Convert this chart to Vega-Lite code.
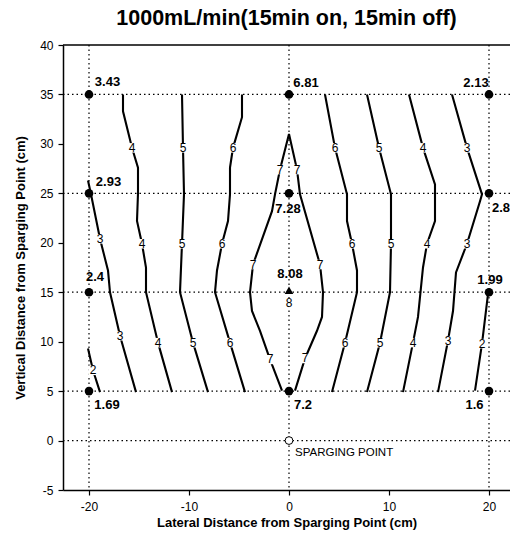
{
  "$schema": "https://vega.github.io/schema/vega-lite/v6.json",
  "width": 447,
  "height": 445,
  "autosize": {"type": "none"},
  "padding": {"left": 63, "top": 45, "right": 0, "bottom": 51},
  "background": "white",
  "title": {"text": "1000mL/min(15min on, 15min off)", "font": "Liberation Sans", "fontSize": 21.5, "fontWeight": "bold", "color": "black", "anchor": "middle", "frame": "group", "offset": 10},
  "config": {
    "view": {"stroke": null},
    "axis": {"labelFont": "Liberation Sans", "labelFontSize": 12, "labelColor": "black", "domainColor": "black", "domainWidth": 1.5, "tickColor": "black", "tickSize": 5, "tickWidth": 1.2, "titleFont": "Liberation Sans", "titleFontSize": 13, "titleFontWeight": "bold", "titleColor": "black", "grid": false, "labelFlush": false}
  },
  "datasets": {
    "contours": [
      {"c": "L4", "o": 1, "x": -16.6, "y": 35}, {"c": "L4", "o": 2, "x": -16.6, "y": 33.3}, {"c": "L4", "o": 3, "x": -15.7, "y": 29.6}, {"c": "L4", "o": 4, "x": -15.1, "y": 27.6}, {"c": "L4", "o": 5, "x": -15.1, "y": 25}, {"c": "L4", "o": 6, "x": -15.2, "y": 22.2}, {"c": "L4", "o": 7, "x": -14.7, "y": 19.9}, {"c": "L4", "o": 8, "x": -14.3, "y": 17.5}, {"c": "L4", "o": 9, "x": -14.3, "y": 15}, {"c": "L4", "o": 10, "x": -13.1, "y": 9.9}, {"c": "L4", "o": 11, "x": -11.7, "y": 4.9},
      {"c": "L5", "o": 1, "x": -10.7, "y": 35}, {"c": "L5", "o": 2, "x": -10.6, "y": 29.6}, {"c": "L5", "o": 3, "x": -10.5, "y": 24.9}, {"c": "L5", "o": 4, "x": -10.7, "y": 19.9}, {"c": "L5", "o": 5, "x": -10.9, "y": 15}, {"c": "L5", "o": 6, "x": -9.6, "y": 9.9}, {"c": "L5", "o": 7, "x": -8.1, "y": 4.9},
      {"c": "L6", "o": 1, "x": -4.7, "y": 35}, {"c": "L6", "o": 2, "x": -4.7, "y": 32.7}, {"c": "L6", "o": 3, "x": -5.6, "y": 29.6}, {"c": "L6", "o": 4, "x": -5.9, "y": 27.6}, {"c": "L6", "o": 5, "x": -5.9, "y": 24.9}, {"c": "L6", "o": 6, "x": -6.1, "y": 22.2}, {"c": "L6", "o": 7, "x": -6.7, "y": 19.9}, {"c": "L6", "o": 8, "x": -7.2, "y": 17.2}, {"c": "L6", "o": 9, "x": -7.4, "y": 15}, {"c": "L6", "o": 10, "x": -5.9, "y": 9.9}, {"c": "L6", "o": 11, "x": -4.4, "y": 4.9},
      {"c": "L3", "o": 1, "x": -20.1, "y": 26.3}, {"c": "L3", "o": 2, "x": -19.8, "y": 24.9}, {"c": "L3", "o": 3, "x": -18.9, "y": 20.4}, {"c": "L3", "o": 4, "x": -18.1, "y": 17.2}, {"c": "L3", "o": 5, "x": -17.9, "y": 15}, {"c": "L3", "o": 6, "x": -16.9, "y": 10.6}, {"c": "L3", "o": 7, "x": -15.3, "y": 4.9},
      {"c": "L2", "o": 1, "x": -20.1, "y": 9.3}, {"c": "L2", "o": 2, "x": -19.6, "y": 7.1}, {"c": "L2", "o": 3, "x": -18.9, "y": 4.9},
      {"c": "C7", "o": 1, "x": -0.7, "y": 5.05}, {"c": "C7", "o": 2, "x": -1.9, "y": 8.2}, {"c": "C7", "o": 3, "x": -2.9, "y": 11.1}, {"c": "C7", "o": 4, "x": -3.7, "y": 13.1}, {"c": "C7", "o": 5, "x": -3.9, "y": 15}, {"c": "C7", "o": 6, "x": -3.6, "y": 17.8}, {"c": "C7", "o": 7, "x": -1.7, "y": 23.2}, {"c": "C7", "o": 8, "x": -1.4, "y": 24.9}, {"c": "C7", "o": 9, "x": -0.9, "y": 27.4}, {"c": "C7", "o": 10, "x": 0, "y": 31}, {"c": "C7", "o": 11, "x": 0.8, "y": 27.4}, {"c": "C7", "o": 12, "x": 1.1, "y": 24.9}, {"c": "C7", "o": 13, "x": 3.1, "y": 17.8}, {"c": "C7", "o": 14, "x": 3.4, "y": 15}, {"c": "C7", "o": 15, "x": 3.3, "y": 12.5}, {"c": "C7", "o": 16, "x": 2.8, "y": 11.1}, {"c": "C7", "o": 17, "x": 1.6, "y": 8.3}, {"c": "C7", "o": 18, "x": 0.6, "y": 5.05},
      {"c": "R6", "o": 1, "x": 3.6, "y": 35}, {"c": "R6", "o": 2, "x": 4.6, "y": 29.6}, {"c": "R6", "o": 3, "x": 5.8, "y": 24.9}, {"c": "R6", "o": 4, "x": 5.8, "y": 22.2}, {"c": "R6", "o": 5, "x": 6.3, "y": 19.9}, {"c": "R6", "o": 6, "x": 6.8, "y": 17.2}, {"c": "R6", "o": 7, "x": 6.8, "y": 15}, {"c": "R6", "o": 8, "x": 5.6, "y": 9.9}, {"c": "R6", "o": 9, "x": 4.3, "y": 4.9},
      {"c": "R5", "o": 1, "x": 7.8, "y": 35}, {"c": "R5", "o": 2, "x": 9.0, "y": 29.6}, {"c": "R5", "o": 3, "x": 10.2, "y": 24.9}, {"c": "R5", "o": 4, "x": 10.2, "y": 19.9}, {"c": "R5", "o": 5, "x": 10.1, "y": 15}, {"c": "R5", "o": 6, "x": 9.1, "y": 9.9}, {"c": "R5", "o": 7, "x": 7.8, "y": 4.9},
      {"c": "R4", "o": 1, "x": 12.0, "y": 35}, {"c": "R4", "o": 2, "x": 13.4, "y": 29.6}, {"c": "R4", "o": 3, "x": 14.6, "y": 25.9}, {"c": "R4", "o": 4, "x": 14.6, "y": 22.2}, {"c": "R4", "o": 5, "x": 13.8, "y": 19.9}, {"c": "R4", "o": 6, "x": 13.4, "y": 17.5}, {"c": "R4", "o": 7, "x": 12.9, "y": 12.5}, {"c": "R4", "o": 8, "x": 12.4, "y": 9.9}, {"c": "R4", "o": 9, "x": 11.4, "y": 4.9},
      {"c": "R3", "o": 1, "x": 16.3, "y": 35}, {"c": "R3", "o": 2, "x": 17.8, "y": 29.6}, {"c": "R3", "o": 3, "x": 19.3, "y": 24.9}, {"c": "R3", "o": 4, "x": 19.1, "y": 24.2}, {"c": "R3", "o": 5, "x": 17.8, "y": 19.9}, {"c": "R3", "o": 6, "x": 16.7, "y": 17}, {"c": "R3", "o": 7, "x": 16.4, "y": 13.1}, {"c": "R3", "o": 8, "x": 15.9, "y": 10.1}, {"c": "R3", "o": 9, "x": 14.9, "y": 4.9},
      {"c": "R2", "o": 1, "x": 19.9, "y": 14.8}, {"c": "R2", "o": 2, "x": 19.3, "y": 9.8}, {"c": "R2", "o": 3, "x": 18.6, "y": 5.05}
    ],
    "clabels": [
      {"x": -15.7, "y": 29.6, "t": "4"}, {"x": -14.7, "y": 19.9, "t": "4"}, {"x": -13.1, "y": 9.9, "t": "4"},
      {"x": -10.6, "y": 29.6, "t": "5"}, {"x": -10.7, "y": 19.9, "t": "5"}, {"x": -9.6, "y": 9.9, "t": "5"},
      {"x": -5.6, "y": 29.6, "t": "6"}, {"x": -6.7, "y": 19.9, "t": "6"}, {"x": -5.9, "y": 9.9, "t": "6"},
      {"x": -18.9, "y": 20.4, "t": "3"}, {"x": -16.9, "y": 10.6, "t": "3"},
      {"x": -19.6, "y": 7.1, "t": "2"},
      {"x": -0.9, "y": 27.4, "t": "7"}, {"x": 0.8, "y": 27.4, "t": "7"}, {"x": -3.6, "y": 17.8, "t": "7"}, {"x": 3.1, "y": 17.8, "t": "7"}, {"x": -1.9, "y": 8.2, "t": "7"}, {"x": 1.6, "y": 8.3, "t": "7"},
      {"x": 4.6, "y": 29.6, "t": "6"}, {"x": 6.3, "y": 19.9, "t": "6"}, {"x": 5.6, "y": 9.9, "t": "6"},
      {"x": 9.0, "y": 29.6, "t": "5"}, {"x": 10.2, "y": 19.9, "t": "5"}, {"x": 9.1, "y": 9.9, "t": "5"},
      {"x": 13.4, "y": 29.6, "t": "4"}, {"x": 13.8, "y": 19.9, "t": "4"}, {"x": 12.4, "y": 9.9, "t": "4"},
      {"x": 17.8, "y": 29.6, "t": "3"}, {"x": 17.8, "y": 19.9, "t": "3"}, {"x": 15.9, "y": 10.1, "t": "3"},
      {"x": 19.3, "y": 9.8, "t": "2"},
      {"x": 0, "y": 13.9, "t": "8"}
    ],
    "points": [
      {"x": -20, "y": 35}, {"x": 0, "y": 35}, {"x": 20, "y": 35},
      {"x": -20, "y": 25}, {"x": 0, "y": 25}, {"x": 20, "y": 25},
      {"x": -20, "y": 15}, {"x": 20, "y": 15},
      {"x": -20, "y": 5}, {"x": 0, "y": 5}, {"x": 20, "y": 5}
    ],
    "vlabels": [
      {"x": -18.15, "y": 36.3, "t": "3.43"}, {"x": 1.7, "y": 36.2, "t": "6.81"}, {"x": 18.7, "y": 36.2, "t": "2.13"},
      {"x": -18.05, "y": 26.1, "t": "2.93"}, {"x": -0.1, "y": 23.4, "t": "7.28"}, {"x": 21.2, "y": 23.5, "t": "2.8"},
      {"x": -19.4, "y": 16.5, "t": "2.4"}, {"x": 0.1, "y": 16.8, "t": "8.08"}, {"x": 20.1, "y": 16.2, "t": "1.99"},
      {"x": -18.2, "y": 3.6, "t": "1.69"}, {"x": 1.4, "y": 3.6, "t": "7.2"}, {"x": 18.55, "y": 3.6, "t": "1.6"}
    ]
  },
  "layer": [
    {
      "data": {"values": [{"x": -20}, {"x": 0}, {"x": 20}]},
      "mark": {"type": "rule", "color": "black", "strokeDash": [1.5, 3], "strokeWidth": 1.2},
      "encoding": {
        "x": {"field": "x", "type": "quantitative", "scale": {"domain": [-22.6, 22.1], "nice": false, "zero": false},
              "axis": {"title": "Lateral Distance from Sparging Point (cm)", "values": [-20, -10, 0, 10, 20], "labelPadding": 6, "titlePadding": 4, "labelExpr": "datum.value + ''"}}
      }
    },
    {
      "data": {"values": [{"y": 35}, {"y": 25}, {"y": 15}, {"y": 5}, {"y": 0}]},
      "mark": {"type": "rule", "color": "black", "strokeDash": [1.5, 3], "strokeWidth": 1.2},
      "encoding": {
        "y": {"field": "y", "type": "quantitative", "scale": {"domain": [-5, 40], "nice": false, "zero": false},
              "axis": {"title": "Vertical Distance from Sparging Point (cm)", "values": [-5, 0, 5, 10, 15, 20, 25, 30, 35, 40], "labelPadding": 5, "titlePadding": 12, "labelExpr": "datum.value + ''"}}
      }
    },
    {
      "data": {"values": [{"y": 40}]},
      "mark": {"type": "rule", "color": "black", "strokeWidth": 1.5},
      "encoding": {
        "y": {"field": "y", "type": "quantitative", "scale": {"domain": [-5, 40], "nice": false, "zero": false},
              "axis": {"title": "Vertical Distance from Sparging Point (cm)", "values": [-5, 0, 5, 10, 15, 20, 25, 30, 35, 40], "labelPadding": 5, "titlePadding": 12, "labelExpr": "datum.value + ''"}}
      }
    },
    {
      "data": {"name": "contours"},
      "mark": {"type": "line", "color": "black", "strokeWidth": 2.1},
      "encoding": {
        "x": {"field": "x", "type": "quantitative", "scale": {"domain": [-22.6, 22.1], "nice": false, "zero": false},
              "axis": {"title": "Lateral Distance from Sparging Point (cm)", "values": [-20, -10, 0, 10, 20], "labelPadding": 6, "titlePadding": 4, "labelExpr": "datum.value + ''"}},
        "y": {"field": "y", "type": "quantitative", "scale": {"domain": [-5, 40], "nice": false, "zero": false},
              "axis": {"title": "Vertical Distance from Sparging Point (cm)", "values": [-5, 0, 5, 10, 15, 20, 25, 30, 35, 40], "labelPadding": 5, "titlePadding": 12, "labelExpr": "datum.value + ''"}},
        "detail": {"field": "c"},
        "order": {"field": "o", "type": "quantitative"}
      }
    },
    {
      "data": {"name": "clabels"},
      "mark": {"type": "point", "shape": "square", "filled": true, "color": "white", "size": 90, "opacity": 1},
      "encoding": {
        "x": {"field": "x", "type": "quantitative", "scale": {"domain": [-22.6, 22.1], "nice": false, "zero": false},
              "axis": {"title": "Lateral Distance from Sparging Point (cm)", "values": [-20, -10, 0, 10, 20], "labelPadding": 6, "titlePadding": 4, "labelExpr": "datum.value + ''"}},
        "y": {"field": "y", "type": "quantitative", "scale": {"domain": [-5, 40], "nice": false, "zero": false},
              "axis": {"title": "Vertical Distance from Sparging Point (cm)", "values": [-5, 0, 5, 10, 15, 20, 25, 30, 35, 40], "labelPadding": 5, "titlePadding": 12, "labelExpr": "datum.value + ''"}}
      }
    },
    {
      "data": {"name": "clabels"},
      "mark": {"type": "text", "font": "Liberation Sans", "fontSize": 12, "fill": "black", "baseline": "middle", "align": "center"},
      "encoding": {
        "x": {"field": "x", "type": "quantitative", "scale": {"domain": [-22.6, 22.1], "nice": false, "zero": false},
              "axis": {"title": "Lateral Distance from Sparging Point (cm)", "values": [-20, -10, 0, 10, 20], "labelPadding": 6, "titlePadding": 4, "labelExpr": "datum.value + ''"}},
        "y": {"field": "y", "type": "quantitative", "scale": {"domain": [-5, 40], "nice": false, "zero": false},
              "axis": {"title": "Vertical Distance from Sparging Point (cm)", "values": [-5, 0, 5, 10, 15, 20, 25, 30, 35, 40], "labelPadding": 5, "titlePadding": 12, "labelExpr": "datum.value + ''"}},
        "text": {"field": "t"}
      }
    },
    {
      "data": {"name": "points"},
      "mark": {"type": "point", "shape": "circle", "filled": true, "color": "black", "size": 75, "opacity": 1},
      "encoding": {
        "x": {"field": "x", "type": "quantitative", "scale": {"domain": [-22.6, 22.1], "nice": false, "zero": false},
              "axis": {"title": "Lateral Distance from Sparging Point (cm)", "values": [-20, -10, 0, 10, 20], "labelPadding": 6, "titlePadding": 4, "labelExpr": "datum.value + ''"}},
        "y": {"field": "y", "type": "quantitative", "scale": {"domain": [-5, 40], "nice": false, "zero": false},
              "axis": {"title": "Vertical Distance from Sparging Point (cm)", "values": [-5, 0, 5, 10, 15, 20, 25, 30, 35, 40], "labelPadding": 5, "titlePadding": 12, "labelExpr": "datum.value + ''"}}
      }
    },
    {
      "data": {"values": [{"x": 0, "y": 15.2}]},
      "mark": {"type": "point", "shape": "triangle-up", "filled": true, "color": "black", "size": 75, "opacity": 1},
      "encoding": {
        "x": {"field": "x", "type": "quantitative", "scale": {"domain": [-22.6, 22.1], "nice": false, "zero": false},
              "axis": {"title": "Lateral Distance from Sparging Point (cm)", "values": [-20, -10, 0, 10, 20], "labelPadding": 6, "titlePadding": 4, "labelExpr": "datum.value + ''"}},
        "y": {"field": "y", "type": "quantitative", "scale": {"domain": [-5, 40], "nice": false, "zero": false},
              "axis": {"title": "Vertical Distance from Sparging Point (cm)", "values": [-5, 0, 5, 10, 15, 20, 25, 30, 35, 40], "labelPadding": 5, "titlePadding": 12, "labelExpr": "datum.value + ''"}}
      }
    },
    {
      "data": {"values": [{"x": 0, "y": 0}]},
      "mark": {"type": "point", "shape": "circle", "filled": true, "fill": "white", "stroke": "black", "strokeWidth": 1, "size": 60, "opacity": 1},
      "encoding": {
        "x": {"field": "x", "type": "quantitative", "scale": {"domain": [-22.6, 22.1], "nice": false, "zero": false},
              "axis": {"title": "Lateral Distance from Sparging Point (cm)", "values": [-20, -10, 0, 10, 20], "labelPadding": 6, "titlePadding": 4, "labelExpr": "datum.value + ''"}},
        "y": {"field": "y", "type": "quantitative", "scale": {"domain": [-5, 40], "nice": false, "zero": false},
              "axis": {"title": "Vertical Distance from Sparging Point (cm)", "values": [-5, 0, 5, 10, 15, 20, 25, 30, 35, 40], "labelPadding": 5, "titlePadding": 12, "labelExpr": "datum.value + ''"}}
      }
    },
    {
      "data": {"name": "vlabels"},
      "mark": {"type": "text", "font": "Liberation Sans", "fontSize": 13, "fontWeight": "bold", "fill": "black", "baseline": "middle", "align": "center"},
      "encoding": {
        "x": {"field": "x", "type": "quantitative", "scale": {"domain": [-22.6, 22.1], "nice": false, "zero": false},
              "axis": {"title": "Lateral Distance from Sparging Point (cm)", "values": [-20, -10, 0, 10, 20], "labelPadding": 6, "titlePadding": 4, "labelExpr": "datum.value + ''"}},
        "y": {"field": "y", "type": "quantitative", "scale": {"domain": [-5, 40], "nice": false, "zero": false},
              "axis": {"title": "Vertical Distance from Sparging Point (cm)", "values": [-5, 0, 5, 10, 15, 20, 25, 30, 35, 40], "labelPadding": 5, "titlePadding": 12, "labelExpr": "datum.value + ''"}},
        "text": {"field": "t"}
      }
    },
    {
      "data": {"values": [{"x": 0.6, "y": -1.3, "t": "SPARGING POINT"}]},
      "mark": {"type": "text", "font": "Liberation Sans", "fontSize": 11.5, "fill": "black", "baseline": "middle", "align": "left"},
      "encoding": {
        "x": {"field": "x", "type": "quantitative", "scale": {"domain": [-22.6, 22.1], "nice": false, "zero": false},
              "axis": {"title": "Lateral Distance from Sparging Point (cm)", "values": [-20, -10, 0, 10, 20], "labelPadding": 6, "titlePadding": 4, "labelExpr": "datum.value + ''"}},
        "y": {"field": "y", "type": "quantitative", "scale": {"domain": [-5, 40], "nice": false, "zero": false},
              "axis": {"title": "Vertical Distance from Sparging Point (cm)", "values": [-5, 0, 5, 10, 15, 20, 25, 30, 35, 40], "labelPadding": 5, "titlePadding": 12, "labelExpr": "datum.value + ''"}},
        "text": {"field": "t"}
      }
    }
  ]
}
